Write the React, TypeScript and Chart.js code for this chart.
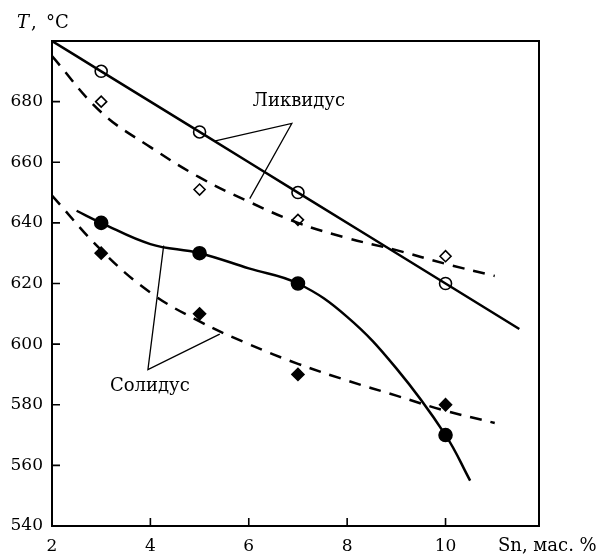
import React, { useEffect, useRef } from "react";
import { Chart, registerables } from "chart.js";

Chart.register(...registerables);

// Axis ticks
const xTicks = [2, 4, 6, 8, 10];
const yTicks = [540, 560, 580, 600, 620, 640, 660, 680];

// Liquidus, solid line (open circles)
const liqSolidPtsX = [3, 5, 7, 10];
const liqSolidPtsT = [690, 670, 650, 620];
const liqSolidCurveX = [2, 3, 5, 7, 10, 11.5];
const liqSolidCurveT = [700, 690, 670, 650, 620, 605];

// Liquidus, dashed line (open diamonds)
const liqDashPtsX = [3, 5, 7, 10];
const liqDashPtsT = [680, 651, 641, 629];
const liqDashCurveX = [2, 3, 4, 5, 6, 7, 8, 9, 10, 11];
const liqDashCurveT = [695, 676.5, 665, 655, 647, 640, 635, 631, 626.5, 622.5];

// Solidus, solid line (filled circles)
const solSolidPtsX = [3, 5, 7, 10];
const solSolidPtsT = [640, 630, 620, 570];
const solSolidCurveX = [2.5, 3, 4, 5, 6, 7, 8, 9, 10, 10.5];
const solSolidCurveT = [644, 640, 633, 630, 625, 620, 609, 592, 570, 555];

// Solidus, dashed line (filled diamonds)
const solDashPtsX = [3, 5, 7, 10];
const solDashPtsT = [630, 610, 590, 580];
const solDashCurveX = [2, 3, 4, 5, 6, 7, 8, 9, 10, 11];
const solDashCurveT = [649, 631, 617, 607.5, 600, 593.5, 588, 583, 578, 574];

// Leader lines for labels
const liqLeaderX = [5.3, 6.875, 6.02];
const liqLeaderT = [667, 672.8, 648];
const solLeaderX = [4.27, 3.95, 5.41];
const solLeaderT = [632.5, 591.6, 603.3];

const labelLiq = "Ликвидус";
const labelSol = "Солидус";
const labelLiqPos = [7.02, 680];
const labelSolPos = [3.99, 586];

const FONT = "DejaVu Serif";

const zip = (xs: number[], ys: number[]) => xs.map((x, i) => ({ x, y: ys[i] }));

const framePlugin = {
  id: "frameAndText",
  afterDatasetsDraw(chart: any) {
    const { ctx, chartArea } = chart;
    const xs = chart.scales.x;
    const ys = chart.scales.y;
    ctx.save();
    ctx.strokeStyle = "#000";
    ctx.lineWidth = 2;
    ctx.strokeRect(chartArea.left, chartArea.top, chartArea.right - chartArea.left, chartArea.bottom - chartArea.top);
    ctx.lineWidth = 1.6;
    ctx.beginPath();
    xTicks.forEach((v) => {
      const px = xs.getPixelForValue(v);
      ctx.moveTo(px, chartArea.bottom);
      ctx.lineTo(px, chartArea.bottom - 8);
    });
    yTicks.forEach((v) => {
      const py = ys.getPixelForValue(v);
      ctx.moveTo(chartArea.left, py);
      ctx.lineTo(chartArea.left + 8, py);
    });
    ctx.stroke();

    ctx.fillStyle = "#000";
    ctx.textBaseline = "middle";
    ctx.textAlign = "center";
    ctx.font = `18px ${FONT}`;
    ctx.fillText(labelLiq, xs.getPixelForValue(labelLiqPos[0]), ys.getPixelForValue(labelLiqPos[1]));
    ctx.fillText(labelSol, xs.getPixelForValue(labelSolPos[0]), ys.getPixelForValue(labelSolPos[1]));

    ctx.textAlign = "left";
    ctx.textBaseline = "alphabetic";
    ctx.font = `italic 18px ${FONT}`;
    ctx.fillText("T", 17, 28);
    ctx.font = `18px ${FONT}`;
    ctx.fillText(",", 31, 28);
    ctx.fillText("°C", 46, 28);

    ctx.textBaseline = "middle";
    ctx.fillText("Sn, мас. %", 498, 546);
    ctx.restore();
  },
};

export default function App() {
  const ref = useRef<HTMLCanvasElement | null>(null);
  useEffect(() => {
    if (!ref.current) return;
    const lineCurve = (xs: number[], ys: number[], dashed: boolean, width = 2.5) => ({
      type: "scatter" as const,
      data: zip(xs, ys),
      showLine: true,
      borderColor: "#000",
      borderWidth: width,
      borderDash: dashed ? [12, 9] : [],
      pointRadius: 0,
      tension: 0.4,
      fill: false,
    });
    const markers = (xs: number[], ys: number[], style: string, filled: boolean, r: number) => ({
      type: "scatter" as const,
      data: zip(xs, ys),
      showLine: false,
      pointStyle: style,
      pointRadius: r,
      pointBackgroundColor: filled ? "#000" : "#fff",
      pointBorderColor: "#000",
      pointBorderWidth: 1.6,
    });
    const leader = (xs: number[], ys: number[]) => ({
      type: "scatter" as const,
      data: zip(xs, ys),
      showLine: true,
      borderColor: "#000",
      borderWidth: 1.3,
      pointRadius: 0,
      tension: 0,
      fill: false,
    });
    const chart = new Chart(ref.current, {
      type: "scatter",
      data: {
        datasets: [
          leader(liqLeaderX, liqLeaderT),
          leader(solLeaderX, solLeaderT),
          lineCurve(liqSolidCurveX, liqSolidCurveT, false),
          lineCurve(liqDashCurveX, liqDashCurveT, true),
          lineCurve(solSolidCurveX, solSolidCurveT, false),
          lineCurve(solDashCurveX, solDashCurveT, true),
          markers(liqSolidPtsX, liqSolidPtsT, "circle", false, 6),
          markers(liqDashPtsX, liqDashPtsT, "rectRot", false, 5.5),
          markers(solSolidPtsX, solSolidPtsT, "circle", true, 6.5),
          markers(solDashPtsX, solDashPtsT, "rectRot", true, 6),
        ] as any,
      },
      options: {
        animation: false,
        responsive: false,
        layout: { padding: { top: 41, right: 67, left: 0, bottom: 0 } },
        plugins: { legend: { display: false }, tooltip: { enabled: false } },
        scales: {
          x: {
            type: "linear",
            min: 2,
            max: 11.9,
            grid: { display: false, drawTicks: false },
            border: { display: false },
            afterBuildTicks: (s: any) => {
              s.ticks = xTicks.map((v) => ({ value: v }));
            },
            afterFit: (s: any) => {
              s.height = 29;
            },
            ticks: {
              padding: 10,
              color: "#000",
              font: { family: FONT, size: 17 },
              maxRotation: 0,
              callback: (v: any) => String(v),
            },
          },
          y: {
            type: "linear",
            min: 540,
            max: 700,
            grid: { display: false, drawTicks: false },
            border: { display: false },
            afterBuildTicks: (s: any) => {
              s.ticks = yTicks.map((v) => ({ value: v }));
            },
            afterFit: (s: any) => {
              s.width = 52;
            },
            ticks: {
              padding: 9,
              color: "#000",
              font: { family: FONT, size: 17 },
              callback: (v: any) => String(v),
            },
          },
        },
      },
      plugins: [framePlugin],
    });
    return () => chart.destroy();
  }, []);
  return (
    <div style={{ position: "absolute", left: 0, top: 0, width: 606, height: 555, background: "#fff" }}>
      <canvas ref={ref} width={606} height={555} style={{ width: 606, height: 555 }} />
    </div>
  );
}
